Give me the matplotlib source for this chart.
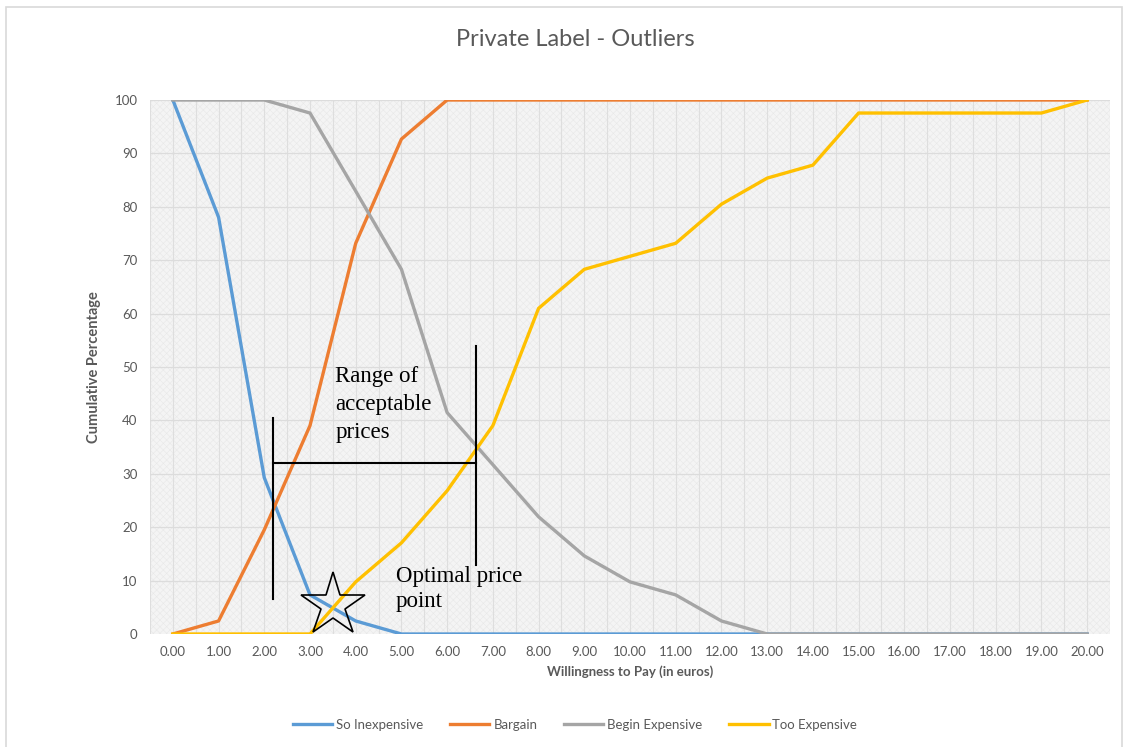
import matplotlib.pyplot as plt
import numpy as np
from matplotlib.patches import Rectangle

# price points (euros) and cumulative percentages per question
prices = ["0.00", "1.00", "2.00", "3.00", "4.00", "5.00", "6.00", "7.00", "8.00", "9.00", "10.00",
          "11.00", "12.00", "13.00", "14.00", "15.00", "16.00", "17.00", "18.00", "19.00", "20.00"]
so_inexpensive = [100, 78.05, 29.27, 7.32, 2.44, 0, 0, 0, 0, 0, 0,
                  0, 0, 0, 0, 0, 0, 0, 0, 0, 0]
bargain = [0, 2.44, 19.51, 39.02, 73.17, 92.68, 100, 100, 100, 100, 100,
           100, 100, 100, 100, 100, 100, 100, 100, 100, 100]
begin_expensive = [100, 100, 100, 97.56, 82.93, 68.29, 41.46, 31.71, 21.95, 14.63, 9.76,
                   7.32, 2.44, 0, 0, 0, 0, 0, 0, 0, 0]
too_expensive = [0, 0, 0, 0, 9.76, 17.07, 26.83, 39.02, 60.98, 68.29, 70.73,
                 73.17, 80.49, 85.37, 87.80, 97.56, 97.56, 97.56, 97.56, 97.56, 100]

# acceptable range and optimal point markers
range_low, range_high, range_level = 2.2, 6.63, 32
optimal_x, optimal_y = 3.5, 5.4

plt.rcParams['font.family'] = ['Lato', 'DejaVu Sans']
plt.rcParams['hatch.linewidth'] = 0.4
txt = '#595959'

fig = plt.figure(figsize=(11.3, 7.47), dpi=100)
fig.patches.append(Rectangle((6 / 1130, -0.01), 1116 / 1130, 1 - 7 / 747 + 0.01,
                             transform=fig.transFigure, fill=False,
                             edgecolor='#d9d9d9', lw=1.2))
ax = fig.add_axes([150 / 1130, 1 - 634 / 747, 960 / 1130, 534 / 747])
ax.set_facecolor('#f4f4f4')
ax.add_patch(Rectangle((0, 0), 1, 1, transform=ax.transAxes, facecolor='none',
                       edgecolor='#e8e8e8', hatch='xxxxx', lw=0, zorder=0))

x = np.arange(len(prices))
ax.set_xlim(-0.5, len(prices) - 0.5)
ax.set_ylim(0, 100)

# gridlines
for gx in np.arange(-0.5, len(prices), 0.5):
    ax.axvline(gx, color='#dedede', lw=0.8, zorder=1)
for gy in range(10, 101, 10):
    ax.axhline(gy, color='#dcdcdc', lw=0.9, zorder=1)

ax.plot(x, so_inexpensive, color='#5B9BD5', lw=2.4, label='So Inexpensive', zorder=3)
ax.plot(x, bargain, color='#ED7D31', lw=2.4, label='Bargain', zorder=3)
ax.plot(x, begin_expensive, color='#A5A5A5', lw=2.4, label='Begin Expensive', zorder=3)
ax.plot(x, too_expensive, color='#FFC000', lw=2.4, label='Too Expensive', zorder=3)

# acceptable price range
ax.plot([range_low, range_low], [6.5, 40.5], color='black', lw=1.5, zorder=5)
ax.plot([range_high, range_high], [13, 54], color='black', lw=1.5, zorder=5)
ax.plot([range_low, range_high], [range_level, range_level], color='black', lw=1.5, zorder=5)
ax.text(3.55, 50.2, "Range of\nacceptable\nprices", family='Liberation Serif', fontsize=16.5,
        va='top', ha='left', linespacing=1.45, zorder=6)

# optimal price point
ax.plot([optimal_x], [optimal_y], marker='*', markersize=48, markerfacecolor='none',
        markeredgecolor='black', markeredgewidth=1.2, zorder=6)
ax.text(4.88, 12.8, "Optimal price\npoint", family='Liberation Serif', fontsize=16.5,
        va='top', ha='left', linespacing=1.28, zorder=6)

ax.set_xticks(x)
ax.set_xticklabels(prices)
ax.set_yticks(range(0, 101, 10))
ax.tick_params(length=0, labelsize=9.5, colors=txt, pad=9)
for s in ax.spines.values():
    s.set_visible(False)

ax.set_xlabel("Willingness to Pay (in euros)", fontsize=9.5, color=txt,
              fontweight='bold', labelpad=5)
ax.set_ylabel("Cumulative Percentage", fontsize=10.5, color=txt,
              fontweight='bold', labelpad=10)
fig.text(575 / 1130, 1 - 40 / 747, "Private Label - Outliers", fontsize=17,
         color=txt, ha='center', va='center')

fig.legend(loc='center', bbox_to_anchor=(575 / 1130, 1 - 725 / 747), ncol=4,
           frameon=False, fontsize=9.5, labelcolor=txt, handlelength=3,
           columnspacing=2.0, handletextpad=0.3)

fig.savefig('out.png', dpi=100)
